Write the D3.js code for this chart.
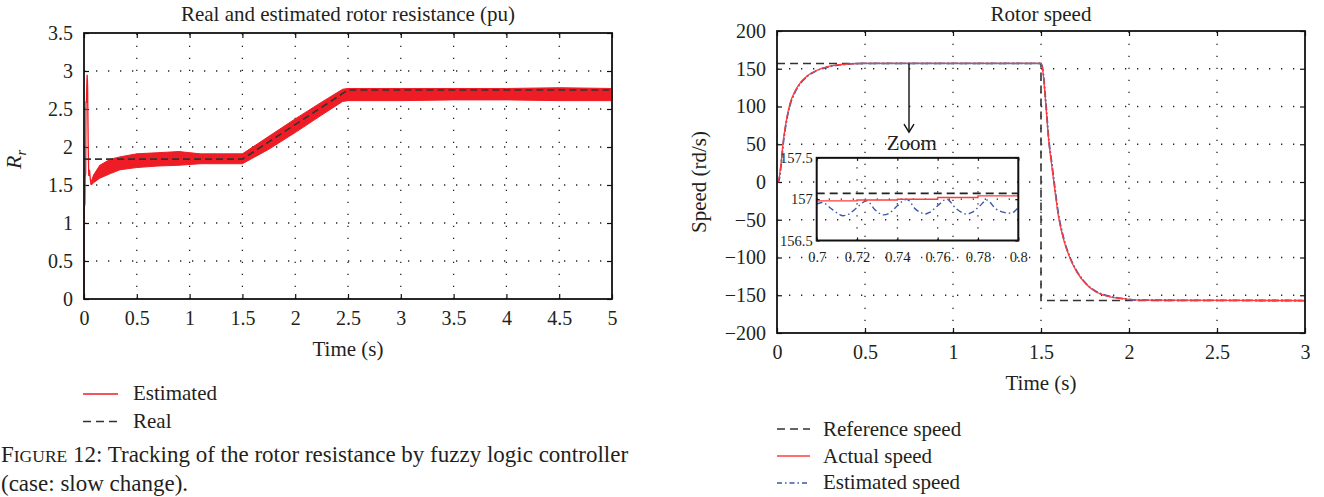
<!DOCTYPE html>
<html><head><meta charset="utf-8">
<script src="https://cdn.jsdelivr.net/npm/d3@7"></script>
<style>
body{margin:0;background:#fff;}
svg text{font-family:"Liberation Serif","Times New Roman",serif;fill:#231f20;}
</style></head>
<body><svg id="c" width="1324" height="497"></svg>
<script>
// ---------------- DATA ----------------
// Left chart: rotor resistance (pu)
const resTicksX = [0,0.5,1,1.5,2,2.5,3,3.5,4,4.5,5];
const resTicksY = [0,0.5,1,1.5,2,2.5,3,3.5];
const realT = [0, 1.5, 2.5, 5];
const realR = [1.84, 1.84, 2.75, 2.75];
// initial transient of the estimate (thin trace)
const spikeT = [0, 0.002, 0.004, 0.009, 0.011, 0.016, 0.019, 0.023, 0.027, 0.030, 0.034, 0.040, 0.045, 0.052, 0.058, 0.065, 0.072];
const spikeR = [0, 1.20, 1.22, 1.26, 1.60, 1.66, 2.60, 2.58, 2.85, 2.95, 2.80, 2.00, 1.62, 1.70, 1.60, 1.52, 1.53];
// estimated band (lower / upper envelope of the chattering estimate)
const bandT  = [0.070, 0.090, 0.150, 0.250, 0.340, 0.500, 0.700, 0.900, 1.100, 1.300, 1.500, 1.750, 2.000, 2.250, 2.450, 2.500, 3.000, 3.500, 4.000, 4.500, 5.000];
const bandLo = [1.50, 1.53, 1.59, 1.65, 1.70, 1.73, 1.75, 1.76, 1.78, 1.78, 1.78, 1.97, 2.19, 2.42, 2.60, 2.61, 2.61, 2.62, 2.62, 2.61, 2.61];
const bandHi = [1.55, 1.63, 1.76, 1.84, 1.87, 1.91, 1.925, 1.94, 1.91, 1.91, 1.91, 2.14, 2.37, 2.59, 2.76, 2.77, 2.77, 2.77, 2.77, 2.78, 2.77];
const resLegend = ["Estimated", "Real"];

// Right chart: rotor speed (rd/s)
const spdTicksX = [0,0.5,1,1.5,2,2.5,3];
const spdTicksY = [-200,-150,-100,-50,0,50,100,150,200];
const refT = [0, 1.5, 1.5, 3];
const refW = [157, 157, -157, -157];
const actT = [0, 0.0075, 0.023, 0.036, 0.055, 0.074, 0.102, 0.131, 0.169, 0.226, 0.30, 0.396, 0.49, 1.5, 1.513, 1.523, 1.532, 1.541, 1.561, 1.580, 1.598, 1.627, 1.665, 1.703, 1.760, 1.816, 1.892, 1.987, 2.063, 3.0];
const actW = [0, 1, 25, 55, 84, 104, 120, 131, 140, 148, 153.5, 156, 157, 157, 142, 115, 89, 62, 22, -13, -44, -75, -101, -119, -136, -146, -152, -155, -156.5, -157];
const estW = [0, 0, 22, 52, 82, 102, 119, 130, 139.5, 147.5, 153, 156, 157, 157, 144, 118, 92, 64, 25, -10, -41, -73, -100, -118, -135.5, -145.5, -151.5, -155, -156.5, -157];
const spdLegend = ["Reference speed", "Actual speed", "Estimated speed"];

// Inset (zoom) data
const inTicksX = [0.7,0.72,0.74,0.76,0.78,0.8];
const inTicksY = [156.5,157,157.5];
const inRefT = [0.7, 0.8];
const inRefW = [157.07, 157.07];
const inActT = [0.7, 0.72, 0.74, 0.76, 0.78, 0.8];
const inActW = [156.98, 156.99, 157.0, 157.02, 157.04, 157.05];
const inEstT = [0.7, 0.7025, 0.708, 0.711, 0.713, 0.716, 0.720, 0.7248, 0.729, 0.731, 0.733, 0.736, 0.740, 0.7446, 0.749, 0.7515, 0.7537, 0.756, 0.760, 0.7645, 0.769, 0.772, 0.7744, 0.777, 0.781, 0.7843, 0.789, 0.793, 0.796, 0.798, 0.8];
const inEstW = [156.94, 156.96, 156.87, 156.82, 156.80, 156.82, 156.90, 156.98, 156.87, 156.83, 156.81, 156.83, 156.92, 157.0, 156.88, 156.84, 156.82, 156.84, 156.92, 157.0, 156.89, 156.84, 156.82, 156.84, 156.92, 156.99, 156.88, 156.84, 156.83, 156.85, 156.90];

const caption1a = "F", caption1b = "IGURE", caption1c = " 12: Tracking of the rotor resistance by fuzzy logic controller";
const caption2 = "(case: slow change).";

// ---------------- DRAW ----------------
const svg = d3.select("#c");
const RED = "#ee1c24", RED2 = "#ff3c3c", BLUE = "#3b57a8", DASHC = "#333";
const GRID_DASH = "1.3,10.7";
const fmt = d3.format("~g");

function frame(g, x, y, xt, yt, o) {
  const [xa, xb] = x.range(), [ya, yb] = y.range(); // ya bottom, yb top
  const xd = x.domain(), yd = y.domain();
  const gi = g.append("g");
  gi.selectAll("line.gx").data(o.gridX || xt.filter(v => v !== xd[0] && v !== xd[1])).join("line")
    .attr("x1", d => x(d)).attr("x2", d => x(d)).attr("y1", ya).attr("y2", yb)
    .attr("stroke", "#222").attr("stroke-width", 1.3).attr("stroke-dasharray", GRID_DASH);
  gi.selectAll("line.gy").data(o.gridY || yt.filter(v => v !== yd[0] && v !== yd[1])).join("line")
    .attr("y1", d => y(d)).attr("y2", d => y(d)).attr("x1", xa).attr("x2", xb)
    .attr("stroke", "#222").attr("stroke-width", 1.3).attr("stroke-dasharray", GRID_DASH);
  const style = sel => {
    sel.select(".domain").remove();
    sel.attr("font-family", null).attr("font-size", null);
    sel.selectAll("text").attr("font-size", o.fs).style("fill", "#231f20");
    sel.selectAll("line").attr("stroke", "#111").attr("stroke-width", 1.2);
  };
  g.append("g").attr("transform", `translate(0,${ya})`)
    .call(d3.axisBottom(x).tickValues(xt).tickFormat(fmt).tickSize(-o.tick).tickPadding(o.padX)).call(style);
  g.append("g").attr("transform", `translate(${xa},0)`)
    .call(d3.axisLeft(y).tickValues(yt).tickFormat(fmt).tickSize(-o.tick).tickPadding(o.padY)).call(style);
  g.append("g").attr("transform", `translate(0,${yb})`)
    .call(d3.axisTop(x).tickValues(xt).tickSize(-o.tick).tickFormat("")).call(style);
  g.append("g").attr("transform", `translate(${xb},0)`)
    .call(d3.axisRight(y).tickValues(yt).tickSize(-o.tick).tickFormat("")).call(style);
}
function box(g, x, y, w) {
  const [xa, xb] = x.range(), [ya, yb] = y.range();
  g.append("rect").attr("x", xa).attr("y", yb).attr("width", xb - xa).attr("height", ya - yb)
    .attr("fill", "none").attr("stroke", "#111").attr("stroke-width", w);
}

// ----- Left chart -----
const xr = d3.scaleLinear().domain([0, 5]).range([84, 612]);
const yr = d3.scaleLinear().domain([0, 3.5]).range([299, 33]);
const gL = svg.append("g");
frame(gL, xr, yr, resTicksX, resTicksY, {fs: 20, tick: 5, padX: 12, padY: 11});

gL.append("path").datum(bandT.map((t, i) => [t, bandLo[i], bandHi[i]]))
  .attr("fill", RED).attr("stroke", RED).attr("stroke-width", 1)
  .attr("d", d3.area().x(d => xr(d[0])).y0(d => yr(d[1])).y1(d => yr(d[2])));
gL.append("path").datum(spikeT.map((t, i) => [t, spikeR[i]]))
  .attr("fill", "none").attr("stroke", RED).attr("stroke-width", 1.3)
  .attr("d", d3.line().x(d => xr(d[0])).y(d => yr(d[1])));
gL.append("path").datum(realT.map((t, i) => [t, realR[i]]))
  .attr("fill", "none").attr("stroke", DASHC).attr("stroke-width", 1.6).attr("stroke-dasharray", "7,4")
  .attr("d", d3.line().x(d => xr(d[0])).y(d => yr(d[1])));
box(gL, xr, yr, 1.8);

gL.append("text").attr("x", (84 + 612) / 2).attr("y", 21).attr("text-anchor", "middle").attr("font-size", 21)
  .text("Real and estimated rotor resistance (pu)");
gL.append("text").attr("x", (84 + 612) / 2).attr("y", 356).attr("text-anchor", "middle").attr("font-size", 21)
  .text("Time (s)");
const rl = gL.append("text").attr("transform", "translate(21,169) rotate(-90)").attr("font-size", 22).attr("font-style", "italic");
rl.append("tspan").text("R");
rl.append("tspan").attr("dy", 5).attr("font-size", 15).text("r");

const legL = gL.append("g");
legL.selectAll("line").data(resLegend).join("line")
  .attr("x1", 83).attr("x2", 118).attr("y1", (d, i) => 394 + i * 27.5).attr("y2", (d, i) => 394 + i * 27.5)
  .attr("stroke", (d, i) => i === 0 ? RED : DASHC).attr("stroke-width", 1.4)
  .attr("stroke-dasharray", (d, i) => i === 0 ? null : "8,5");
legL.selectAll("text").data(resLegend).join("text")
  .attr("x", 133).attr("y", (d, i) => 400 + i * 28).attr("font-size", 21).text(d => d);

const cap = svg.append("text").attr("x", 1).attr("y", 462).attr("font-size", 23);
cap.append("tspan").text(caption1a);
cap.append("tspan").attr("font-size", 17.5).text(caption1b);
cap.append("tspan").text(caption1c);
svg.append("text").attr("x", 1).attr("y", 491).attr("font-size", 23).text(caption2);

// ----- Right chart -----
const xs = d3.scaleLinear().domain([0, 3]).range([777, 1305]);
const ys = d3.scaleLinear().domain([-200, 200]).range([333, 31]);
const gR = svg.append("g");
frame(gR, xs, ys, spdTicksX, spdTicksY, {fs: 20, tick: 5, padX: 12, padY: 11});

const lineS = d3.line().x(d => xs(d[0])).y(d => ys(d[1]));
gR.append("path").datum(refT.map((t, i) => [t, refW[i]]))
  .attr("fill", "none").attr("stroke", DASHC).attr("stroke-width", 1.6).attr("stroke-dasharray", "8,5").attr("d", lineS);
gR.append("path").datum(actT.map((t, i) => [t, estW[i]]))
  .attr("fill", "none").attr("stroke", BLUE).attr("stroke-width", 1.8).attr("stroke-dasharray", "7,2,2,2")
  .attr("d", lineS.curve(d3.curveMonotoneX));
gR.append("path").datum(actT.map((t, i) => [t, actW[i]]))
  .attr("fill", "none").attr("stroke", RED2).attr("stroke-width", 1.3)
  .attr("d", lineS.curve(d3.curveMonotoneX));
box(gR, xs, ys, 1.8);

gR.append("text").attr("x", (777 + 1305) / 2).attr("y", 21).attr("text-anchor", "middle").attr("font-size", 21).text("Rotor speed");
gR.append("text").attr("x", (777 + 1305) / 2).attr("y", 390).attr("text-anchor", "middle").attr("font-size", 21).text("Time (s)");
gR.append("text").attr("transform", "translate(706,182) rotate(-90)").attr("text-anchor", "middle").attr("font-size", 21).text("Speed (rd/s)");

// arrow + "Zoom" label (annotation positions in data units)
const arrowT = 0.75, arrowFrom = 157, arrowTo = 66;
gR.append("line").attr("x1", xs(arrowT)).attr("x2", xs(arrowT)).attr("y1", ys(arrowFrom)).attr("y2", ys(arrowTo))
  .attr("stroke", "#111").attr("stroke-width", 1.4);
gR.append("path").attr("d", `M${xs(arrowT) - 5},${ys(arrowTo) - 8}L${xs(arrowT)},${ys(arrowTo)}L${xs(arrowT) + 5},${ys(arrowTo) - 8}`)
  .attr("fill", "none").attr("stroke", "#111").attr("stroke-width", 1.4);
gR.append("text").attr("x", xs(0.766)).attr("y", ys(42)).attr("text-anchor", "middle").attr("font-size", 21).text("Zoom");

// inset
const ix = d3.scaleLinear().domain([0.7, 0.8]).range([xs(0.2256), xs(1.371)]);
const iy = d3.scaleLinear().domain([156.5, 157.5]).range([ys(-77.5), ys(32)]);
const gI = gR.append("g");
frame(gI, ix, iy, inTicksX, inTicksY, {fs: 14.5, tick: 3, padX: 11, padY: 4, gridY: [157]});
const lineI = d3.line().x(d => ix(d[0])).y(d => iy(d[1]));
gI.append("path").datum(inRefT.map((t, i) => [t, inRefW[i]]))
  .attr("fill", "none").attr("stroke", "#222").attr("stroke-width", 1.6).attr("stroke-dasharray", "8,5").attr("d", lineI);
gI.append("path").datum(inEstT.map((t, i) => [t, inEstW[i]]))
  .attr("fill", "none").attr("stroke", BLUE).attr("stroke-width", 1.4).attr("stroke-dasharray", "6,3,1.5,3")
  .attr("d", lineI.curve(d3.curveMonotoneX));
gI.append("path").datum(inActT.map((t, i) => [t, inActW[i]]))
  .attr("fill", "none").attr("stroke", RED2).attr("stroke-width", 1.4)
  .attr("d", d3.line().x(d => ix(d[0])).y(d => iy(d[1])).curve(d3.curveStepAfter));
box(gI, ix, iy, 2);

const legR = gR.append("g");
legR.selectAll("line").data(spdLegend).join("line")
  .attr("x1", 777).attr("x2", 810).attr("y1", (d, i) => 429 + i * 27).attr("y2", (d, i) => 429 + i * 27)
  .attr("stroke", (d, i) => [DASHC, RED2, BLUE][i]).attr("stroke-width", 1.4)
  .attr("stroke-dasharray", (d, i) => [ "8,5", null, "5,3,1.5,3"][i]);
legR.selectAll("text").data(spdLegend).join("text")
  .attr("x", 823).attr("y", (d, i) => 436 + i * 26.5).attr("font-size", 21).text(d => d);
</script></body></html>
